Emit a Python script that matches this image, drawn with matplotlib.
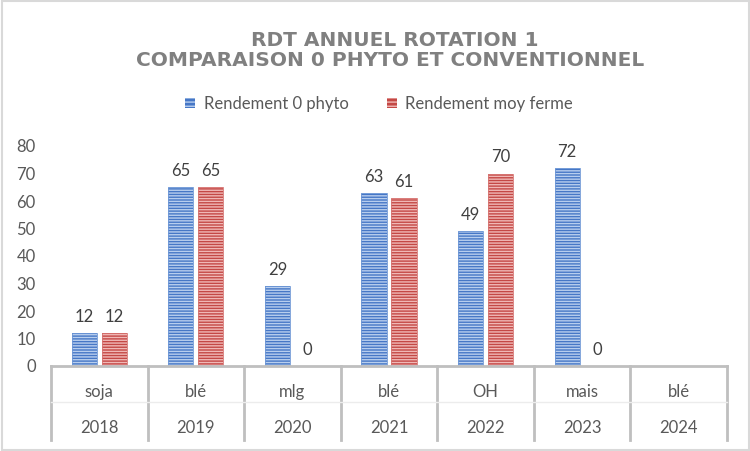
import numpy as np
import matplotlib
matplotlib.use("Agg")
from matplotlib import pyplot as plt
from matplotlib.patches import Rectangle
from matplotlib.lines import Line2D

# data
cultures = ["soja", "blé", "mlg", "blé", "OH", "mais", "blé"]
annees = ["2018", "2019", "2020", "2021", "2022", "2023", "2024"]
rdt_0phyto = [12, 65, 29, 63, 49, 72, np.nan]
rdt_ferme = [12, 65, 0, 61, 70, 0, np.nan]
series_names = ["Rendement 0 phyto", "Rendement moy ferme"]

plt.rcParams['font.family'] = ['Lato', 'DejaVu Sans']
plt.rcParams['hatch.linewidth'] = 1.0

grey_txt = "#595959"
axis_grey = "#bfbfbf"

fig = plt.figure(figsize=(7.5, 4.51), dpi=100)
ax = fig.add_axes([51/750, 1-366/451, (727-51)/750, 220/451])

x = np.arange(len(cultures))
w = 0.26
off = 0.155

def striped_bars(xpos, vals, face, stripe, edge):
    # Excel-like horizontal stripes: hatch drawn in edge colour, then a thin outline on top
    ax.bar(xpos, vals, w, color=face, edgecolor=stripe, hatch="------", linewidth=0)
    ax.bar(xpos, vals, w, color="none", edgecolor=edge, linewidth=0.6)

striped_bars(x - off, rdt_0phyto, "#4677c6", "#b8ceee", "#6f98d6")
striped_bars(x + off, rdt_ferme, "#c44845", "#f0b8b6", "#d67572")

for xs, vals in [(x - off, rdt_0phyto), (x + off, rdt_ferme)]:
    for xi, v in zip(xs, vals):
        if np.isnan(v):
            continue
        ax.text(xi, v + 3.0, "%d" % v, ha="center", va="bottom", fontsize=12, color="#404040")

ax.set_xlim(-0.5, len(cultures) - 0.5)
ax.set_ylim(0, 80)
ax.set_yticks(np.arange(0, 81, 10))
ax.tick_params(axis="y", length=0, labelsize=12, labelcolor=grey_txt, pad=11)
ax.set_xticks([])
for s in ["top", "right", "left"]:
    ax.spines[s].set_visible(False)
ax.spines["bottom"].set_color(axis_grey)
ax.spines["bottom"].set_linewidth(2)

# two-level category axis
trans = ax.get_xaxis_transform()
for b in np.arange(-0.5, len(cultures)):
    ax.add_line(Line2D([b, b], [0, -0.336], transform=trans, color=axis_grey, lw=2, clip_on=False))
ax.add_line(Line2D([-0.5, len(cultures) - 0.5], [-0.164, -0.164], transform=trans,
                   color="#ececec", lw=1, clip_on=False))
for i in range(len(cultures)):
    ax.text(i, -0.118, cultures[i], transform=trans, ha="center", va="center", fontsize=12, color=grey_txt)
    ax.text(i, -0.284, annees[i], transform=trans, ha="center", va="center", fontsize=12, color=grey_txt)

# title + legend
fig.text(395/750, 1-41/451, "RDT ANNUEL ROTATION 1", ha="center", va="center",
         fontsize=14.5, fontweight="bold", color="#808080", family="DejaVu Sans")
fig.text(390/750, 1-61/451, "COMPARAISON 0 PHYTO ET CONVENTIONNEL", ha="center", va="center",
         fontsize=14.5, fontweight="bold", color="#808080", family="DejaVu Sans")

handles = [Rectangle((0, 0), 1, 1, facecolor="#4677c6", edgecolor="#b8ceee", hatch="----", lw=0),
           Rectangle((0, 0), 1, 1, facecolor="#c44845", edgecolor="#f0b8b6", hatch="----", lw=0)]
fig.legend(handles, series_names, loc="center", bbox_to_anchor=(379/750, 1-104/451), ncol=2,
           frameon=False, fontsize=12, labelcolor=grey_txt, handlelength=0.6, handleheight=0.6,
           handletextpad=0.5, columnspacing=2.3)

fig.patches.append(Rectangle((0.002, 0.003), 0.996, 0.994, transform=fig.transFigure,
                             fill=False, edgecolor="#d9d9d9", lw=1.5))

fig.savefig("out.png", dpi=100)
